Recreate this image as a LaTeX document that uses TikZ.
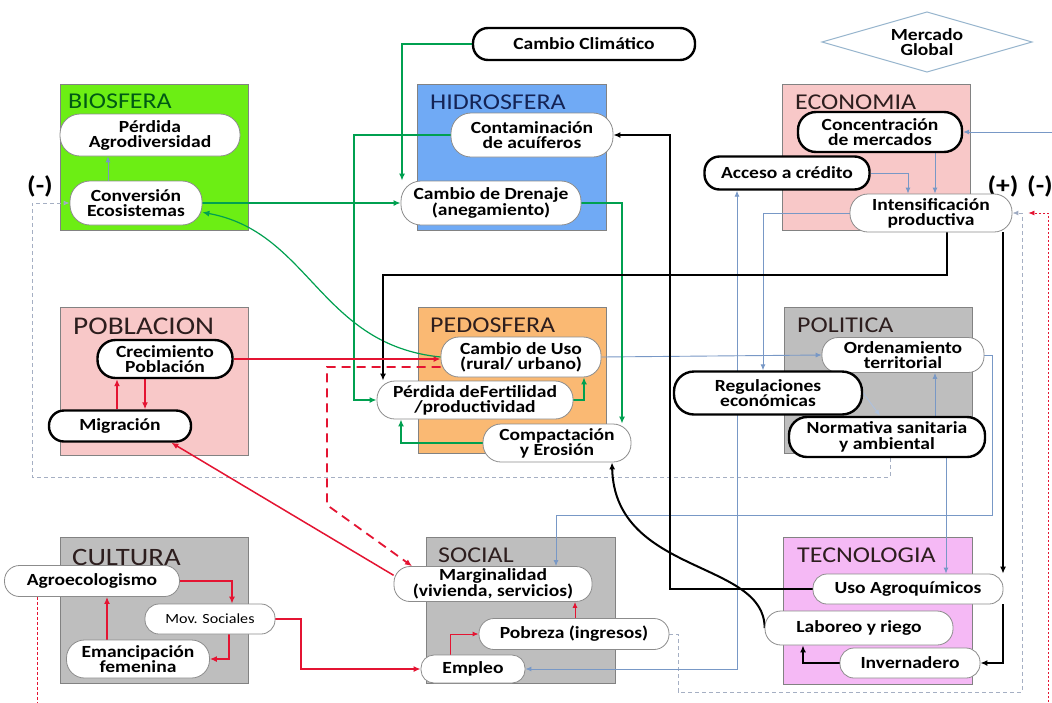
\documentclass[tikz,border=0pt]{standalone}
\usepackage{fontspec}
\setmainfont{Carlito}[FakeStretch=1.15]
\usetikzlibrary{shapes.geometric,arrows.meta,calc}
\pgfdeclarelayer{boxes}
\pgfdeclarelayer{lines}
\pgfsetlayers{boxes,lines,main}
\definecolor{cBio}{RGB}{108,238,20}
\definecolor{cHid}{RGB}{112,170,245}
\definecolor{cPink}{RGB}{248,200,200}
\definecolor{cPedo}{RGB}{250,185,115}
\definecolor{cGray}{RGB}{190,190,190}
\definecolor{cTec}{RGB}{245,185,245}
\definecolor{tBio}{RGB}{0,90,20}
\definecolor{tHid}{RGB}{20,35,85}
\definecolor{tDark}{RGB}{45,30,30}
\definecolor{boxgray}{RGB}{130,130,130}
\definecolor{pillgray}{RGB}{140,140,140}
\definecolor{cG}{RGB}{0,160,80}
\definecolor{cR}{RGB}{228,20,50}
\definecolor{cB}{RGB}{120,152,198}
\definecolor{cGd}{RGB}{165,175,195}
\definecolor{cDia}{RGB}{150,180,205}
\newcommand\nodefnt{\bfseries\fontsize{17}{15}\selectfont}
\tikzset{
  box/.style={draw=boxgray,line width=0.8pt,inner sep=0pt,anchor=north west},
  ttl/.style={font=\fontsize{22.6}{24}\selectfont,inner sep=0pt,anchor=base west,text=tDark},
  pill/.style={draw=pillgray,line width=0.8pt,fill=white,align=center,inner sep=0pt,font=\nodefnt},
  pillk/.style={pill,draw=black,line width=2.4pt},
  gl/.style={draw=cG,line width=1.6pt,-{Latex[length=7pt,width=6pt]}},
  rl/.style={draw=cR,line width=1.8pt,-{Latex[length=7pt,width=6pt]}},
  rlt/.style={draw=cR,line width=1pt,-{Latex[length=6pt,width=5pt]}},
  kl/.style={draw=black,line width=2pt,-{Latex[length=7pt,width=6pt]}},
  bl/.style={draw=cB,line width=0.9pt,-{Latex[length=6pt,width=5pt]}},
  gd/.style={draw=cGd,line width=1pt,dash pattern=on 4pt off 3pt,-{Latex[length=6pt,width=5pt,fill=cB]}},
  rd/.style={draw=cR,line width=0.8pt,dash pattern=on 2pt off 2pt,-{Latex[length=6pt,width=5pt]}},
  sign/.style={font=\bfseries\fontsize{24}{24}\selectfont,inner sep=0pt}
}
\begin{document}
\begin{tikzpicture}[x=1pt,y=-1pt]
\useasboundingbox (0,0) rectangle (1052,702);
% ---- boxes
\begin{pgfonlayer}{boxes}
\fill[white] (0,0) rectangle (1052,702);
\node[box,fill=cBio,minimum width=188pt,minimum height=146pt] (bio) at (60,84) {};
\node[box,fill=cHid,minimum width=189pt,minimum height=146pt] (hid) at (417,84) {};
\node[box,fill=cPink,minimum width=188pt,minimum height=146pt] (eco) at (782,84) {};
\node[box,fill=cPink,minimum width=188pt,minimum height=148pt] (pob) at (60,307) {};
\node[box,fill=cPedo,minimum width=188pt,minimum height=146pt] (ped) at (418,307) {};
\node[box,fill=cGray,minimum width=188pt,minimum height=146pt] (pol) at (784,307) {};
\node[box,fill=cGray,minimum width=188pt,minimum height=146pt] (cul) at (60,537) {};
\node[box,fill=cGray,minimum width=189pt,minimum height=146pt] (soc) at (426,537) {};
\node[box,fill=cTec,minimum width=189pt,minimum height=147pt] (tec) at (783,537) {};
\end{pgfonlayer}
% ---- titles
\node[ttl,text=tBio] (tbio) at (68,108) {BIOSFERA};
\node[ttl,text=tHid] (thid) at (430,109) {HIDROSFERA};
\node[ttl] (teco) at (795,109) {ECONOMIA};
\node[ttl,font=\fontsize{25.5}{26}\selectfont] (tpob) at (73,334) {POBLACION};
\node[ttl] (tped) at (430,332) {PEDOSFERA};
\node[ttl] (tpol) at (797,332) {POLITICA};
\node[ttl,font=\fontsize{25}{26}\selectfont] (tcul) at (72,565) {CULTURA};
\node[ttl] (tsoc) at (438,562) {SOCIAL};
\node[ttl] (ttec) at (797,562) {TECNOLOGIA};
% ---- signs
\node[sign] (m1) at (40,186) {(-)};
\node[sign] (p2) at (1003,186) {(+)};
\node[sign] (m2) at (1040,186) {(-)};
% ---- concept nodes
\draw[cDia,line width=1pt,fill=white] (822,42) -- (927,12) -- (1032,42) -- (927,72) -- cycle;
\node[align=center,inner sep=0pt,font=\nodefnt] (merc) at (927,42) {Mercado\\Global};
\node[pill,minimum width=180pt,minimum height=42pt,rounded corners=20pt] (agro) at (150,135) {Pérdida\\Agrodiversidad};
\node[pill,minimum width=132pt,minimum height=44pt,rounded corners=20pt] (conv) at (136,203) {Conversión\\Ecosistemas};
\node[pillk,minimum width=222pt,minimum height=32pt,rounded corners=15pt] (clim) at (584,44) {Cambio Climático};
\node[pill,minimum width=162pt,minimum height=44pt,rounded corners=20pt] (cont) at (532,135) {Contaminación\\de acuíferos};
\node[pill,minimum width=180pt,minimum height=44pt,rounded corners=20pt] (drn) at (491,203) {Cambio de Drenaje\\(anegamiento)};
\node[pillk,minimum width=164pt,minimum height=40pt,rounded corners=18pt] (conc) at (880,132) {Concentración\\de mercados};
\node[pillk,minimum width=165pt,minimum height=33pt,rounded corners=15pt] (cred) at (787,173) {Acceso a crédito};
\node[pill,minimum width=162pt,minimum height=38pt,rounded corners=18pt] (intens) at (931,213) {Intensificación\\productiva};
\node[pillk,minimum width=135pt,minimum height=38pt,rounded corners=18pt] (crec) at (165,359) {Crecimiento\\Población};
\node[pillk,minimum width=142pt,minimum height=31pt,rounded corners=15pt] (migr) at (120,426) {Migración};
\node[pill,minimum width=160pt,minimum height=40pt,rounded corners=18pt] (uso) at (521,357) {Cambio de Uso\\(rural/ urbano)};
\node[pill,minimum width=196pt,minimum height=38pt,rounded corners=18pt] (fert) at (475,400) {Pérdida deFertilidad\\/productividad};
\node[pill,minimum width=148pt,minimum height=38pt,rounded corners=18pt] (comp) at (557,443) {Compactación\\y Erosión};
\node[pill,minimum width=162pt,minimum height=35pt,rounded corners=16pt] (orden) at (903,355) {Ordenamiento\\territorial};
\node[pillk,minimum width=188pt,minimum height=43pt,rounded corners=20pt] (regul) at (768,393) {Regulaciones\\económicas};
\node[pillk,minimum width=196pt,minimum height=40pt,rounded corners=18pt,font=\bfseries\fontsize{17}{15.5}\selectfont] (norm) at (887,437) {Normativa sanitaria\\y ambiental};
\node[pill,minimum width=175pt,minimum height=31pt,rounded corners=15pt] (agroe) at (92,581) {Agroecologismo};
\node[pill,minimum width=130pt,minimum height=30pt,rounded corners=14pt,font=\fontsize{14}{15}\selectfont] (movs) at (210,619) {Mov. Sociales};
\node[pill,minimum width=143pt,minimum height=38pt,rounded corners=18pt] (emanc) at (138,659) {Emancipación\\femenina};
\node[pill,minimum width=198pt,minimum height=35pt,rounded corners=16pt] (marg) at (493,584) {Marginalidad\\(vivienda, servicios)};
\node[pill,minimum width=190pt,minimum height=31pt,rounded corners=15pt] (pobr) at (574,634) {Pobreza (ingresos)};
\node[pill,minimum width=104pt,minimum height=28pt,rounded corners=13pt] (empl) at (473,669) {Empleo};
\node[pill,minimum width=190pt,minimum height=30pt,rounded corners=14pt] (agroq) at (908,589) {Uso Agroquímicos};
\node[pill,minimum width=188pt,minimum height=34pt,rounded corners=16pt] (labor) at (859,628) {Laboreo y riego};
\node[pill,minimum width=140pt,minimum height=30pt,rounded corners=14pt] (inver) at (910,663) {Invernadero};
% free ends
\coordinate (mr) at (1052,132);
\coordinate (rb) at (1048,702);
\coordinate (ab) at (37,702);
% ---- connectors
\begin{pgfonlayer}{lines}
% dashed feedback loops
\draw[gd] (890,0 |- norm.south) -- (890,477) -- (32,477) -- (32,0 |- conv.west) -- (conv.west);
\draw[gd] (pobr.east) -- (678,0 |- pobr.east) -- (678,692) -- (1022,692) -- (1022,0 |- intens.east) -- (intens.east);
\draw[rd] (rb) -- (1048,0 |- intens.east) -- ($(intens.east)+(16,0)$);
\draw[draw=cR,dash pattern=on 3pt off 2pt,line width=0.9pt] (37,0 |- agroe.south) -- (ab);
% blue thin
\draw[bl] (108,0 |- conv.north) -- (108,0 |- agro.south);
\draw[bl] (mr) -- (conc.east);
\draw[bl] (935,0 |- conc.south) -- (935,0 |- intens.north);
\draw[bl] (cred.east) -| (908,0 |- intens.north);
\draw[bl,{Latex[length=6pt,width=5pt]}-{Latex[length=6pt,width=5pt]}] (empl.east) -| (737,0 |- cred.south);
\draw[bl] (intens.west) -| (763,0 |- regul.north);
\draw[bl] (uso.east) -- (orden.west);
\draw[bl] (orden.east) -| (992,515) -| (556,0 |- marg.north);
\draw[bl] (935,0 |- norm.north) -- (935,0 |- orden.south);
\draw[bl] (946,0 |- norm.south) -- (946,0 |- agroq.north);
\draw[bl,draw=cB!60] (regul.east) -- (880,0 |- norm.north);
% green
\draw[gl] (clim.west) -| (402,0 |- drn.north);
\draw[gl] (conv.east) -- (drn.west);
\draw[gl] (cont.west) -| (354,0 |- fert.west) -- (fert.west);
\draw[gl] (drn.east) -| (622,0 |- comp.north);
\draw[gl,line width=1.2pt] (uso.west) .. controls (320,345) and (310,232) .. (conv.-8);
\draw[gl] (fert.east) -| (584,0 |- uso.south);
\draw[gl] (comp.west) -| (401,0 |- fert.south);
% black
\draw[kl] (947,0 |- intens.south) -- (947,275) -- (383,275) -- (383,0 |- fert.north);
\draw[kl] (1003,0 |- intens.south) -- (1003,0 |- agroq.north);
\draw[kl] (1003,0 |- agroq.south) |- (inver.east);
\draw[kl] (agroq.west) -| (670,0 |- cont.east) -- (cont.east);
\draw[kl] (labor.west) .. controls (765,560) and (615,575) .. (612,0 |- comp.south);
\draw[kl] (inver.west) -| (803,0 |- labor.south);
% red
\draw[rl] (crec.east) -- (crec.east -| uso.west);
\draw[rl,dash pattern=on 9pt off 6pt] ($(uso.west)+(0,10)$) -- (327,367) -- (327,505) -- (412,0 |- marg.north);
\draw[rl,line width=1.5pt] (marg.175) -- (migr.-18);
\draw[rl] (117,0 |- migr.north) -- (117,0 |- crec.south);
\draw[rl] (145,0 |- crec.south) -- (145,0 |- migr.north);
\draw[rl,line width=1.5pt] (agroe.east) -| (232,0 |- movs.north);
\draw[rl,line width=1.5pt] (229,0 |- movs.south) |- (emanc.east);
\draw[rl,line width=1.5pt] (107,0 |- emanc.north) -- (107,0 |- agroe.south);
\draw[rl] (movs.east) -- (301,0 |- movs.east) |- (empl.west);
\draw[rlt] (450,0 |- empl.north) |- (pobr.west);
\draw[rlt] (575,0 |- pobr.north) -- (575,0 |- marg.south);
\end{pgfonlayer}
\end{tikzpicture}
\end{document}
